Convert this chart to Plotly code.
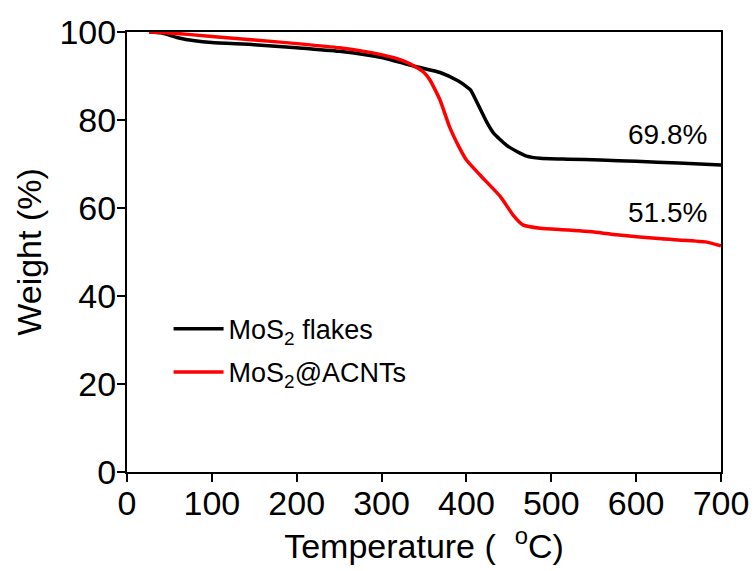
import plotly.graph_objects as go

temp_flakes = [26, 40, 60, 80, 100, 150, 200, 250, 300, 341, 369, 390, 400, 405, 415, 424, 432, 447, 460, 471, 487, 520, 558, 600, 650, 700]
wt_flakes = [100, 99.8, 98.7, 98.0, 97.6, 97.1, 96.4, 95.6, 94.2, 92.1, 90.8, 88.9, 87.6, 86.8, 83.0, 79.5, 77.0, 74.3, 72.8, 71.8, 71.3, 71.1, 70.9, 70.6, 70.2, 69.8]

temp_acnt = [26, 50, 100, 150, 204, 250, 301, 325, 341, 350, 357, 369, 380, 392, 400, 416, 440, 455, 467, 487, 520, 558, 577, 630, 682, 700]
wt_acnt = [100, 99.8, 99.0, 98.2, 97.3, 96.4, 94.8, 93.5, 92.0, 90.8, 89.1, 84.5, 78.5, 73.6, 70.9, 67.5, 62.6, 58.4, 56.1, 55.4, 55.0, 54.4, 53.9, 53.0, 52.3, 51.4]

label_flakes = "MoS<sub>2</sub> flakes"
label_acnt = "MoS<sub>2</sub>@ACNTs"
annot_text = ["69.8%", "51.5%"]
annot_x = [700, 700]
annot_y = [76.6, 58.9]

FONT = "Liberation Sans, Arial, sans-serif"

fig = go.Figure()
fig.add_trace(go.Scatter(x=temp_flakes, y=wt_flakes, mode="lines", name=label_flakes, legendgroup="a",
                         line=dict(color="black", width=3.5, shape="spline", smoothing=0.5)))
fig.add_trace(go.Scatter(x=temp_acnt, y=wt_acnt, mode="lines", name=label_acnt, legendgroup="b",
                         line=dict(color="#ff0000", width=3.5, shape="spline", smoothing=0.5)))

for t, x, y in zip(annot_text, annot_x, annot_y):
    fig.add_annotation(x=x, y=y, text=t, showarrow=False, xanchor="right", yanchor="middle",
                       xshift=-12, font=dict(family=FONT, size=28, color="black"))

axis_common = dict(showgrid=False, zeroline=False, showline=True, linecolor="black", linewidth=2,
                   mirror=True, ticks="outside", ticklen=8, tickwidth=2, tickcolor="black", automargin=False,
                   tickfont=dict(family=FONT, size=34, color="black"))

fig.update_xaxes(range=[0, 700], tickvals=[0, 100, 200, 300, 400, 500, 600, 700], ticklabelstandoff=-8,
                 title=dict(text="Temperature (  <sup>o</sup>C)", font=dict(family=FONT, size=34, color="black"), standoff=6),
                 **axis_common)
fig.update_yaxes(range=[0, 100], tickvals=[0, 20, 40, 60, 80, 100], ticklabelstandoff=-6,
                 title=dict(text="Weight (%)", font=dict(family=FONT, size=34, color="black"), standoff=8),
                 **axis_common)

fig.update_layout(
    width=756, height=571,
    margin=dict(l=127, r=35, t=32, b=99),
    paper_bgcolor="white", plot_bgcolor="white",
    showlegend=True,
    legend=dict(x=0.07, y=0.38, xanchor="left", yanchor="top", bgcolor="rgba(0,0,0,0)",
                font=dict(family=FONT, size=27, color="black"), itemwidth=50, tracegroupgap=5),
)

fig.write_html("out.html")
